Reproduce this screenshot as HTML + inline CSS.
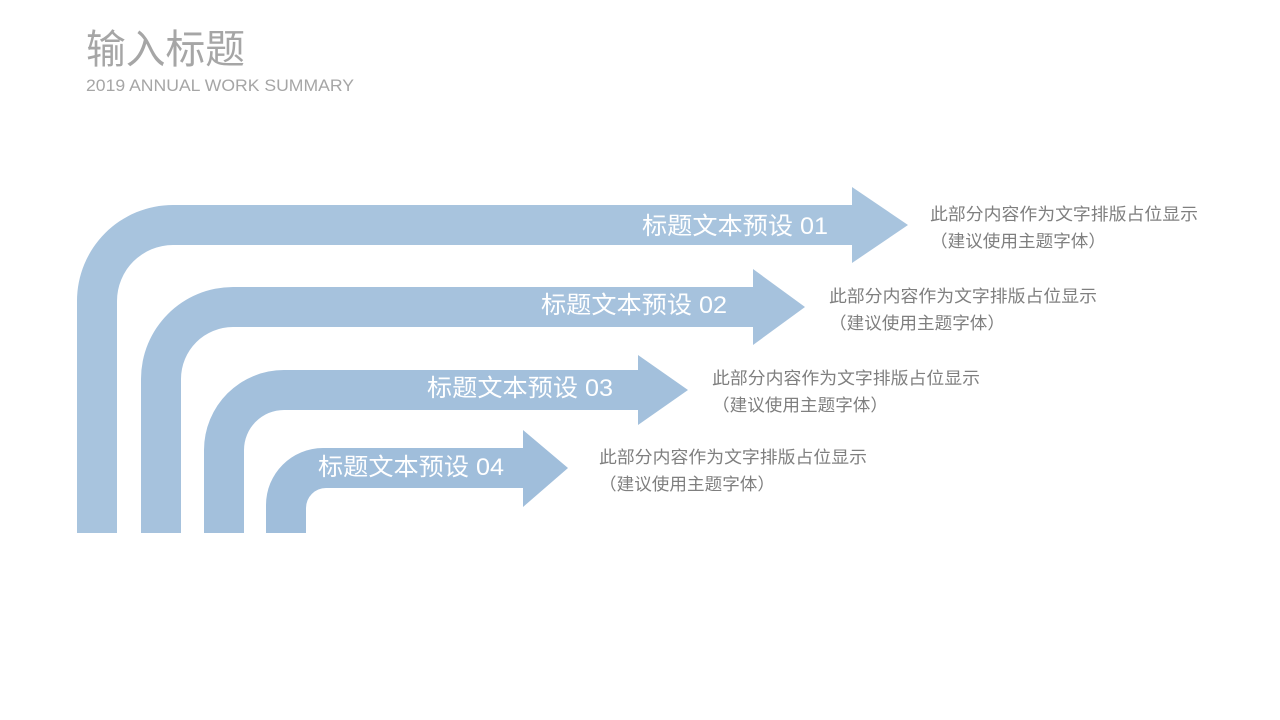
<!DOCTYPE html>
<html><head><meta charset="utf-8"><style>
html,body{margin:0;padding:0;background:#fff;width:1280px;height:720px;overflow:hidden}
svg{display:block}
text{font-family:"Liberation Sans","Noto Sans CJK SC",sans-serif}
</style></head><body>
<svg width="1280" height="720" viewBox="0 0 1280 720" xmlns="http://www.w3.org/2000/svg">
<text x="86" y="63" font-size="40" fill="#a6a6a6" textLength="159" lengthAdjust="spacingAndGlyphs">输入标题</text>
<text x="86" y="91" font-size="17" fill="#a6a6a6" textLength="268" lengthAdjust="spacingAndGlyphs">2019 ANNUAL WORK SUMMARY</text>

<path fill="#a8c4de" d="M77,533 L77,301 A96,96 0 0 1 173,205 L852,205 L852,187 L908,225 L852,263 L852,245 L173,245 A56,56 0 0 0 117,301 L117,533 Z"/>
<path fill="#a6c2dd" d="M141,533 L141,379 A92,92 0 0 1 233,287 L753,287 L753,269 L805,307 L753,345 L753,327 L233,327 A52,52 0 0 0 181,379 L181,533 Z"/>
<path fill="#a3c0dc" d="M204,533 L204,450 A80,80 0 0 1 284,370 L638,370 L638,355 L688,390 L638,425 L638,410 L284,410 A40,40 0 0 0 244,450 L244,533 Z"/>
<path fill="#a0bedb" d="M266,533 L266,505 A57,57 0 0 1 323,448 L523,448 L523,430 L568,468 L523,507 L523,488 L326,488 A20,20 0 0 0 306,508 L306,533 Z"/>

<g fill="#fff" font-size="24">
<text x="642" y="234" textLength="186" lengthAdjust="spacingAndGlyphs">标题文本预设 01</text>
<text x="541" y="313" textLength="186" lengthAdjust="spacingAndGlyphs">标题文本预设 02</text>
<text x="427" y="396" textLength="186" lengthAdjust="spacingAndGlyphs">标题文本预设 03</text>
<text x="318" y="475" textLength="186" lengthAdjust="spacingAndGlyphs">标题文本预设 04</text>
</g>
<g fill="#7f7f7f" font-size="17">
<text x="930" y="220" textLength="268" lengthAdjust="spacingAndGlyphs">此部分内容作为文字排版占位显示</text>
<text x="930" y="247" textLength="176" lengthAdjust="spacingAndGlyphs">（建议使用主题字体）</text>
<text x="829" y="302" textLength="268" lengthAdjust="spacingAndGlyphs">此部分内容作为文字排版占位显示</text>
<text x="829" y="329" textLength="176" lengthAdjust="spacingAndGlyphs">（建议使用主题字体）</text>
<text x="712" y="384" textLength="268" lengthAdjust="spacingAndGlyphs">此部分内容作为文字排版占位显示</text>
<text x="712" y="411" textLength="176" lengthAdjust="spacingAndGlyphs">（建议使用主题字体）</text>
<text x="599" y="463" textLength="268" lengthAdjust="spacingAndGlyphs">此部分内容作为文字排版占位显示</text>
<text x="599" y="490" textLength="176" lengthAdjust="spacingAndGlyphs">（建议使用主题字体）</text>
</g>
</svg>
</body></html>
